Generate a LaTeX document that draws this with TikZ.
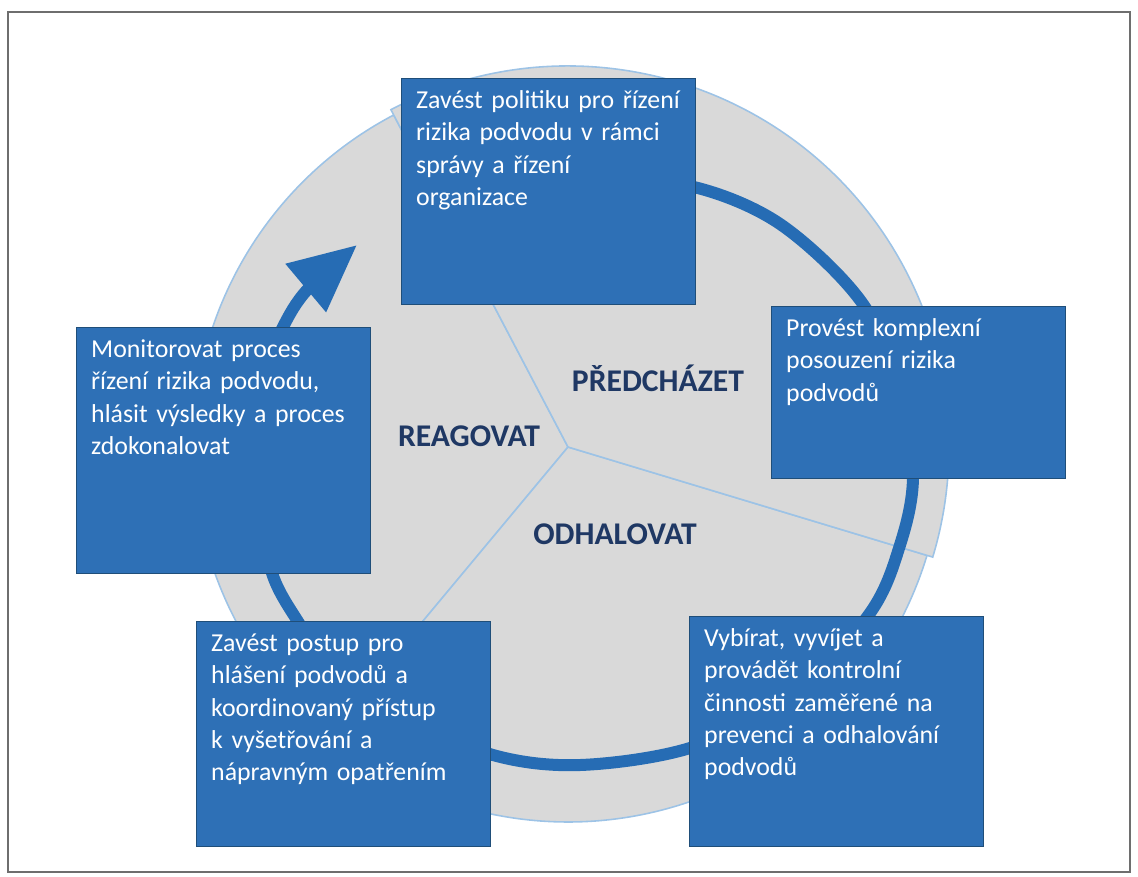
\documentclass[tikz,border=0pt]{standalone}
\usepackage{fontspec}
\setmainfont{Carlito}
\usepackage{tikz}
\usetikzlibrary{arrows.meta}

\definecolor{boxblue}{RGB}{46,112,182}
\definecolor{boxedge}{RGB}{31,78,121}
\definecolor{ringblue}{RGB}{38,108,180}
\definecolor{diskgray}{RGB}{217,217,217}
\definecolor{rimblue}{RGB}{157,195,230}
\definecolor{phasenavy}{RGB}{31,56,100}
\definecolor{framegray}{RGB}{110,110,110}

\begin{document}
\begin{tikzpicture}[x=0.02cm,y=-0.02cm,
    card/.style={draw=boxedge,line width=0.8pt,fill=boxblue,text=white,
        anchor=north west,align=left,text width=5.3cm,inner xsep=0.29cm,
        inner ysep=0pt,text height=0.6cm,font=\fontsize{14.7}{18.3}\selectfont},
    phase/.style={text=phasenavy,font=\fontsize{18}{22}\selectfont\bfseries},
    slice/.style={fill=diskgray,draw=rimblue,line width=0.9pt}]
    \useasboundingbox (0,0) rectangle (1138,876);
    \draw[framegray,line width=1.2pt] (8,12) rectangle (1130,872);

    % the three slices of the disk
    \filldraw[slice] (568,447) -- ++(129.8:375) arc (129.8:242.3:375) -- cycle;
    \filldraw[slice] (568,447) -- ++(16.8:375) arc (16.8:129.8:375) -- cycle;
    \filldraw[slice] (568,447) -- ++(242.3:381) arc (242.3:376.8:381) -- cycle;

    % cycle ring with its head
    \draw[ringblue,line width=0.24cm,-{Triangle[length=1.34cm,width=1.2cm]}]
        plot[smooth,tension=0.55] coordinates {(600,180) (694,187) (780,224)
        (860,300) (903,390) (913,478) (900,545) (870,613) (790,700) (690,748)
        (580,765) (493,755) (400,715) (330,665) (297,620) (272,573) (258,500)
        (256,430) (266,370) (283,327) (307,290) (357,245)};

    \node[phase] at (658,378) (prevent) {PŘEDCHÁZET};
    \node[phase] at (469,436) (react) {REAGOVAT};
    \node[phase] at (615,534) (detect) {ODHALOVAT};

    \node[card,text depth=3.92cm] at (401,78) (policy)
        {Zavést~politiku~pro~řízení\\rizika podvodu v rámci\\správy a řízení\\organizace};
    \node[card,text depth=2.84cm] at (771,306) (assess)
        {Provést komplexní\\posouzení rizika\\podvodů};
    \node[card,text depth=4.0cm] at (689,616) (controls)
        {Vybírat, vyvíjet a\\provádět kontrolní\\činnosti zaměřené na\\prevenci a odhalování\\podvodů};
    \node[card,text depth=3.9cm] at (196,621) (report)
        {Zavést postup pro\\hlášení podvodů a\\koordinovaný přístup\\k vyšetřování a\\nápravným opatřením};
    \node[card,text depth=4.32cm] at (76,327) (monitor)
        {Monitorovat proces\\řízení rizika podvodu,\\hlásit výsledky a~proces\\zdokonalovat};
\end{tikzpicture}
\end{document}
